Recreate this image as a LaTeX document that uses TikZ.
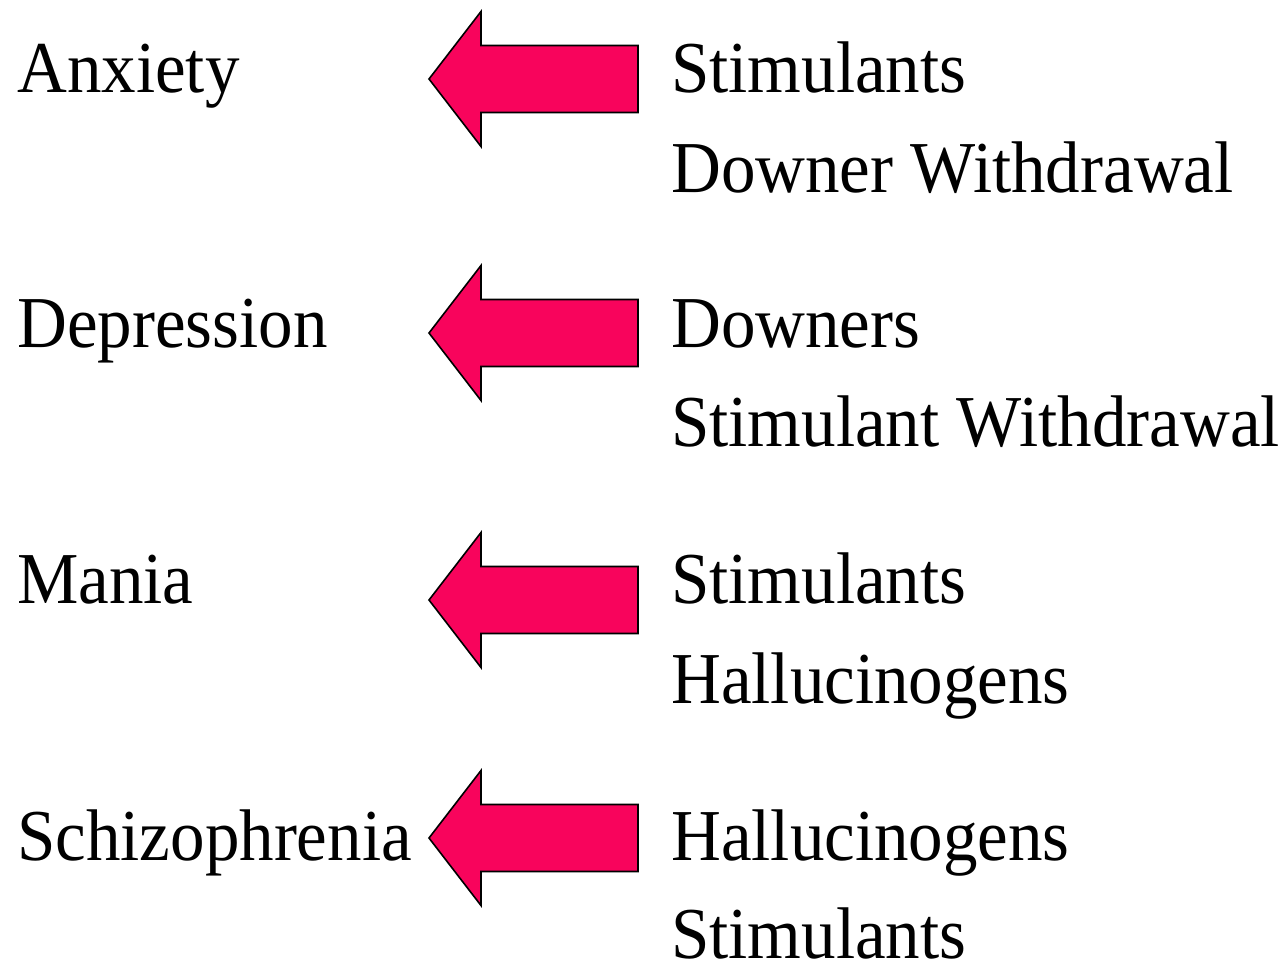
\documentclass[tikz,border=0pt]{standalone}
\usepackage{fontspec}
\setmainfont{Liberation Serif}
\definecolor{arrowpink}{RGB}{248,4,92}
\tikzset{
  lbl/.style={anchor=base west, inner sep=0pt, font=\fontsize{69}{80}\selectfont},
  bigarrow/.style={fill=arrowpink, draw=black, line width=1.6pt, line join=miter}
}
\begin{document}
\begin{tikzpicture}[x=1pt,y=-1pt]
\useasboundingbox (0,0) rectangle (1287,963);
% left labels
\node[lbl] (anx) at (17,93) {\scalebox{1}[1.06]{Anxiety}};
\node[lbl] (dep) at (17,347) {\scalebox{1}[1.06]{Depression}};
\node[lbl] (man) at (17,603) {\scalebox{1}[1.06]{Mania}};
\node[lbl] (sch) at (17,860) {\scalebox{1}[1.06]{Schizophrenia}};
% right labels
\node[lbl] (r1a) at (671,93) {\scalebox{1}[1.06]{Stimulants}};
\node[lbl] (r1b) at (671,192) {\scalebox{1}[1.06]{Downer Withdrawal}};
\node[lbl] (r2a) at (671,347) {\scalebox{1}[1.06]{Downers}};
\node[lbl] (r2b) at (671,446) {\scalebox{1}[1.06]{Stimulant Withdrawal}};
\node[lbl] (r3a) at (671,603) {\scalebox{1}[1.06]{Stimulants}};
\node[lbl] (r3b) at (671,703) {\scalebox{1}[1.06]{Hallucinogens}};
\node[lbl] (r4a) at (671,860) {\scalebox{1}[1.06]{Hallucinogens}};
\node[lbl] (r4b) at (671,958) {\scalebox{1}[1.06]{Stimulants}};
% arrows
\foreach \c/\n in {79/a1,333/a2,600/a3,838/a4}{
  \coordinate (\n-tip) at (429,\c);
  \draw[bigarrow] (\n-tip) -- (481,\c-67.5) -- (481,\c-33.5) -- (638,\c-33.5)
     -- (638,\c+33.5) -- (481,\c+33.5) -- (481,\c+67.5) -- cycle;
}
\end{tikzpicture}
\end{document}
